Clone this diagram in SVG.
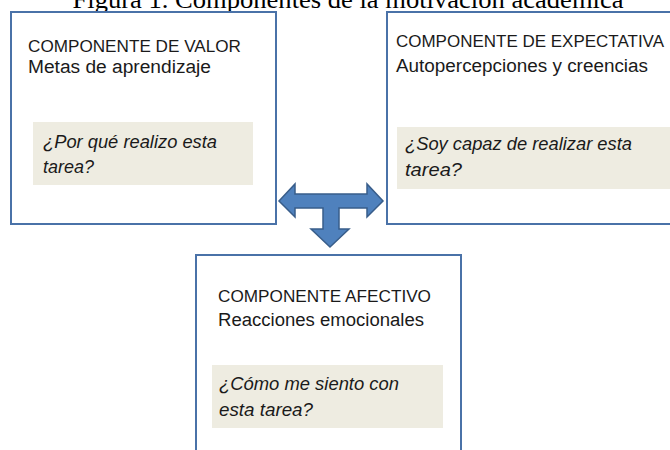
<svg xmlns="http://www.w3.org/2000/svg" width="670" height="450" viewBox="0 0 670 450">
<style>
.box{fill:#ffffff;stroke:#4a72a8;stroke-width:2}
.q{fill:#eeece1;stroke:none}
.h{font-family:"Liberation Sans",Arial,sans-serif;font-size:17px;fill:#1a1a1a}
.s{font-family:"Liberation Sans",Arial,sans-serif;font-size:18px;fill:#1a1a1a}
.i{font-family:"Liberation Sans",Arial,sans-serif;font-size:18px;font-style:italic;fill:#1a1a1a}
.t{font-family:"Liberation Serif","Times New Roman",serif;font-size:25px;fill:#000}
.arr{fill:#4f81bd;stroke:#385d8a;stroke-width:1.5;stroke-linejoin:miter}
</style>
<rect width="670" height="450" fill="#ffffff"/>
<text class="t" x="348" y="8" text-anchor="middle" textLength="551" lengthAdjust="spacingAndGlyphs">Figura 1. Componentes de la motivación académica</text>
<g id="valor">
<rect class="box" x="11" y="12" width="265" height="212"/>
<text class="h" x="28" y="52" textLength="213" lengthAdjust="spacingAndGlyphs">COMPONENTE DE VALOR</text>
<text class="s" x="28" y="73" textLength="183" lengthAdjust="spacingAndGlyphs">Metas de aprendizaje</text>
<rect class="q" x="33" y="122" width="220" height="63"/>
<text class="i" x="43" y="148" textLength="174" lengthAdjust="spacingAndGlyphs">¿Por qué realizo esta</text>
<text class="i" x="43" y="173" textLength="51" lengthAdjust="spacingAndGlyphs">tarea?</text>
</g>
<g id="expectativa">
<rect class="box" x="387" y="12" width="300" height="212"/>
<text class="h" x="396" y="47" textLength="268" lengthAdjust="spacingAndGlyphs">COMPONENTE DE EXPECTATIVA</text>
<text class="s" x="396" y="72" textLength="252" lengthAdjust="spacingAndGlyphs">Autopercepciones y creencias</text>
<rect class="q" x="397" y="127" width="280" height="62"/>
<text class="i" x="405" y="150" textLength="227" lengthAdjust="spacingAndGlyphs">¿Soy capaz de realizar esta</text>
<text class="i" x="405" y="176" textLength="57" lengthAdjust="spacingAndGlyphs">tarea?</text>
</g>
<g id="afectivo">
<rect class="box" x="196" y="255" width="265" height="210"/>
<text class="h" x="218" y="302" textLength="213" lengthAdjust="spacingAndGlyphs">COMPONENTE AFECTIVO</text>
<text class="s" x="218" y="326" textLength="206" lengthAdjust="spacingAndGlyphs">Reacciones emocionales</text>
<rect class="q" x="212" y="365" width="231" height="63"/>
<text class="i" x="219" y="390" textLength="180" lengthAdjust="spacingAndGlyphs">¿Cómo me siento con</text>
<text class="i" x="219" y="416" textLength="94" lengthAdjust="spacingAndGlyphs">esta tarea?</text>
</g>
<g id="connectors">
<path class="arr" d="M279,201 L295,184 L295,194 L367,194 L367,184 L383,201 L367,217 L367,208 L339,208 L339,229 L349,229 L330,247 L311,229 L323,229 L323,208 L295,208 L295,217 Z"/>
</g>
</svg>
